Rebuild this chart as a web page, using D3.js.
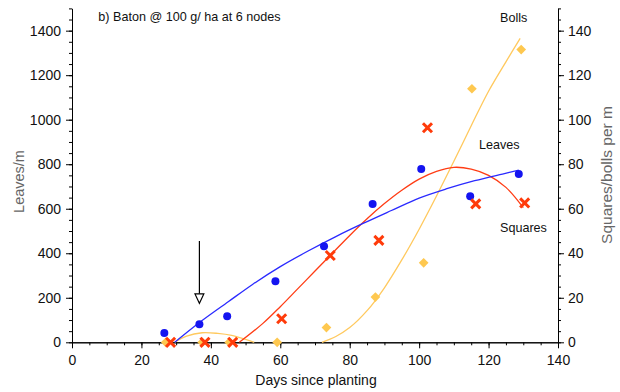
<!DOCTYPE html>
<html>
<head>
<meta charset="utf-8">
<script src="https://cdn.jsdelivr.net/npm/d3@7"></script>
<style>
  html, body { margin: 0; padding: 0; background: #fff; }
  svg { display: block; font-family: "Liberation Sans", Arial, sans-serif; }
</style>
</head>
<body>
<svg id="chart" width="620" height="392"></svg>
<script>
// Sampling days and counts per metre
const leafDays   = [26.6, 36.7, 44.7, 58.6, 72.6, 86.6, 100.6, 114.7, 128.7];
const leafValues = [42, 81, 117, 274, 432, 621, 778, 656, 756];

const squareDays   = [28.4, 38.3, 46.3, 60.4, 74.4, 88.4, 102.4, 116.3, 130.4];
const squareValues = [0, 0, 0, 10.6, 39, 45.8, 96.4, 62.2, 62.6];

const bollDays   = [27, 37.5, 45.3, 59.1, 73.3, 87.4, 101.3, 115.2, 129.4];
const bollValues = [0, 0, 0, 0, 6.6, 20.3, 35.7, 113.9, 131.5];

// Fitted trend lines, [day, value]
const leafFit = [[29.6, 0], [37, 92], [45, 182], [52, 260], [60, 340], [68, 410], [76, 475],
                 [84, 535], [92, 592], [100, 648], [108, 690], [116, 726], [124, 756], [128.7, 773]];
const squareFit = [[48.2, 0], [55, 8.5], [60, 16], [65, 24], [70, 32], [75, 40], [80, 48], [85, 55.5],
                   [90, 62.3], [95, 68.3], [100, 73.3], [105, 76.8], [110, 78.6], [115, 77.8],
                   [120, 75], [125, 69.6], [130, 60.5]];
const bollFitEarly = [[29.6, 0], [33, 2.8], [37.5, 4.3], [42, 4], [46, 3.1], [50, 1.3], [52.5, 0]];
const bollFitLate  = [[72, 0], [76, 2.6], [80, 6.6], [85, 14.2], [90, 24.5], [95, 37], [100, 50.8],
                      [105, 65.7], [110, 81.3], [115, 97.3], [120, 112.8], [125, 126], [129.1, 136.5]];

// Axis ticks
const xTicks = [0, 20, 40, 60, 80, 100, 120, 140];
const leftTicks = [0, 200, 400, 600, 800, 1000, 1200, 1400];
const rightTicks = [0, 20, 40, 60, 80, 100, 120, 140];

const sprayDay = 36.7;   // application marked with the arrow

const svg = d3.select("#chart");

const x = d3.scaleLinear().domain([0, 140]).range([72, 558]);
const yL = d3.scaleLinear().domain([0, 1500]).range([342.3, 8.4]);
const yR = d3.scaleLinear().domain([0, 150]).range([342.3, 8.4]);

const C_LEAF = "#1414f0", C_SQ = "#ff3b0a", C_BOLL = "#fec850";
const LINE_LEAF = "#2a2aff", LINE_SQ = "#ff3c14", LINE_BOLL = "#ffc95e";
const fmt = d3.format("d");

// Axes
function styleAxis(g) {
  g.select(".domain").attr("stroke", "#000").attr("stroke-width", 1);
  g.selectAll(".tick line").attr("stroke", "#000").attr("stroke-width", 1);
  g.selectAll(".tick text").attr("fill", "#111").style("font-size", "14px")
    .style("font-family", "'Liberation Sans', Arial, sans-serif");
}

// minor ticks
svg.append("g").attr("transform", "translate(0,342.3)")
  .call(d3.axisBottom(x).tickValues(d3.range(0, 141, 5)).tickSize(3).tickFormat("").tickSizeOuter(0))
  .call(styleAxis);
svg.append("g").attr("transform", "translate(72,0)")
  .call(d3.axisLeft(yL).tickValues(d3.range(0, 1501, 50)).tickSize(3).tickFormat("").tickSizeOuter(0))
  .call(styleAxis);
svg.append("g").attr("transform", "translate(558,0)")
  .call(d3.axisRight(yR).tickValues(d3.range(0, 151, 5)).tickSize(3).tickFormat("").tickSizeOuter(0))
  .call(styleAxis);

// major ticks
svg.append("g").attr("transform", "translate(0,342.3)")
  .call(d3.axisBottom(x).tickValues(xTicks).tickFormat(fmt).tickSize(6).tickPadding(7).tickSizeOuter(0))
  .call(styleAxis);
svg.append("g").attr("transform", "translate(72,0)")
  .call(d3.axisLeft(yL).tickValues(leftTicks).tickFormat(fmt).tickSize(6).tickPadding(5).tickSizeOuter(0))
  .call(styleAxis);
svg.append("g").attr("transform", "translate(558,0)")
  .call(d3.axisRight(yR).tickValues(rightTicks).tickFormat(fmt).tickSize(6).tickPadding(4).tickSizeOuter(0))
  .call(styleAxis);

// Axis titles
svg.append("text").attr("x", 316).attr("y", 385).attr("text-anchor", "middle")
  .style("font-size", "14px").attr("fill", "#111").text("Days since planting");
svg.append("text").attr("transform", "translate(23.5,181.5) rotate(-90)").attr("text-anchor", "middle")
  .style("font-size", "14.5px").attr("fill", "#666").text("Leaves/m");
svg.append("text").attr("transform", "translate(612,175) rotate(-90)").attr("text-anchor", "middle")
  .style("font-size", "15.5px").attr("fill", "#666").text("Squares/bolls per m");

// Trend lines
const curve = d3.curveCatmullRom.alpha(0.5);
const lineL = d3.line().x(d => x(d[0])).y(d => yL(d[1])).curve(curve);
const lineR = d3.line().x(d => x(d[0])).y(d => yR(d[1])).curve(curve);

svg.append("path").attr("d", lineR(bollFitEarly)).attr("fill", "none").attr("stroke", LINE_BOLL).attr("stroke-width", 1.3);
svg.append("path").attr("d", lineR(bollFitLate)).attr("fill", "none").attr("stroke", LINE_BOLL).attr("stroke-width", 1.3);
svg.append("path").attr("d", lineR(squareFit)).attr("fill", "none").attr("stroke", LINE_SQ).attr("stroke-width", 1.3);
svg.append("path").attr("d", lineL(leafFit)).attr("fill", "none").attr("stroke", LINE_LEAF).attr("stroke-width", 1.3);

// Bolls: diamonds
const diamond = d3.symbol().type(d3.symbolDiamond2).size(60);
svg.append("g").selectAll("path").data(d3.zip(bollDays, bollValues)).join("path")
  .attr("d", diamond).attr("fill", C_BOLL)
  .attr("transform", d => `translate(${x(d[0])},${yR(d[1])})`);

// Leaves: circles
svg.append("g").selectAll("circle").data(d3.zip(leafDays, leafValues)).join("circle")
  .attr("cx", d => x(d[0])).attr("cy", d => yL(d[1])).attr("r", 4).attr("fill", C_LEAF);

// Squares: crosses
const cross = d3.symbol().type(d3.symbolX).size(55);
svg.append("g").selectAll("path").data(d3.zip(squareDays, squareValues)).join("path")
  .attr("d", cross).attr("fill", "none").attr("stroke", C_SQ).attr("stroke-width", 3)
  .attr("transform", d => `translate(${x(d[0])},${yR(d[1])})`);

// Application arrow
const ax = x(sprayDay), aTop = yL(455), aTip = yL(175), headH = 9.5, headW = 4.5;
svg.append("line").attr("x1", ax).attr("x2", ax).attr("y1", aTop).attr("y2", aTip - headH)
  .attr("stroke", "#000").attr("stroke-width", 1.2);
svg.append("path")
  .attr("d", `M${ax - headW},${aTip - headH}L${ax + headW},${aTip - headH}L${ax},${aTip}Z`)
  .attr("fill", "#fff").attr("stroke", "#000").attr("stroke-width", 1.1);

// Series labels and panel title
const lab = (t, xx, yy) => svg.append("text").attr("x", xx).attr("y", yy)
  .style("font-size", "12.6px").attr("fill", "#111").text(t);
lab("b) Baton @ 100 g/ ha at 6 nodes", 98.3, 21);
lab("Bolls", 500, 21.7);
lab("Leaves", 479, 149);
lab("Squares", 500, 231.5);
</script>
</body>
</html>
